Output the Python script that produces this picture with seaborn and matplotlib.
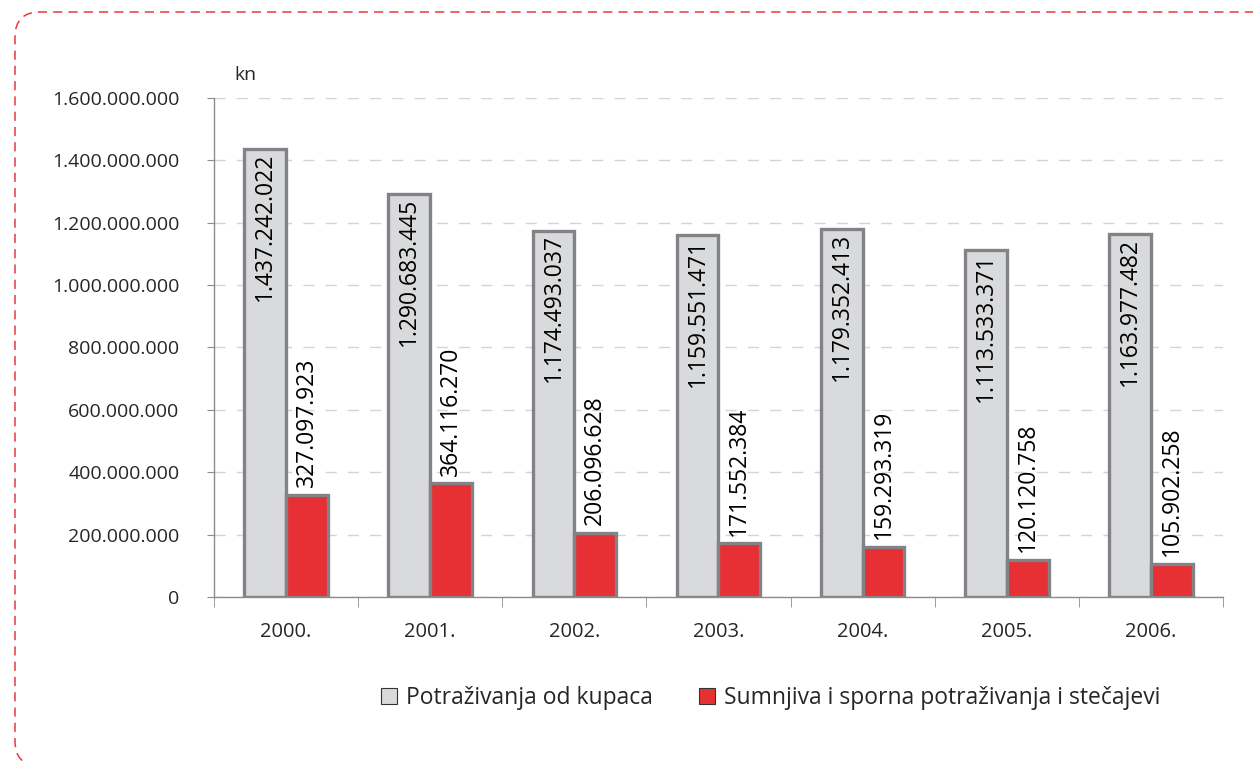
import numpy as np
import pandas as pd
import seaborn as sns
import matplotlib.pyplot as plt
from matplotlib.patches import Patch, FancyBboxPatch
from matplotlib.ticker import FuncFormatter, FixedLocator

# data
years = ['2000.', '2001.', '2002.', '2003.', '2004.', '2005.', '2006.']
potrazivanja = [1437242022, 1290683445, 1174493037, 1159551471, 1179352413, 1113533371, 1163977482]
sumnjiva = [327097923, 364116270, 206096628, 171552384, 159293319, 120120758, 105902258]
series_names = ['Potraživanja od kupaca', 'Sumnjiva i sporna potraživanja i stečajevi']
colors = ['#d9dadc', '#e63033']

df = pd.DataFrame({'godina': years * 2,
                   'serija': [series_names[0]] * 7 + [series_names[1]] * 7,
                   'iznos': potrazivanja + sumnjiva})

sns.set_style('white')
plt.rcParams['font.family'] = ['Open Sans', 'DejaVu Sans']

fig = plt.figure(figsize=(12.53, 7.63), dpi=100)
ax = fig.add_axes([0.1708, 0.2176, 0.8052, 0.654])

sns.barplot(data=df, x='godina', y='iznos', hue='serija', palette=colors,
            saturation=1, width=0.58, ax=ax, legend=False,
            edgecolor='#838387', linewidth=2.4)

def dots(v):
    return f'{int(round(v)):,}'.replace(',', '.')

ax.set_ylim(0, 1.6e9)
ax.set_xlim(-0.5, 6.5)
ax.set_yticks(np.arange(0, 1.6e9 + 1, 2e8))
ax.yaxis.set_major_formatter(FuncFormatter(lambda v, p: dots(v)))
ax.grid(axis='y', color='#d4d4d4', linestyle=(0, (8, 8)), linewidth=1)
ax.set_axisbelow(True)
ax.set_xlabel('')
ax.set_ylabel('')

for s in ['top', 'right']:
    ax.spines[s].set_visible(False)
for s in ['left', 'bottom']:
    ax.spines[s].set_color('#8c8c8c')
    ax.spines[s].set_linewidth(1)

ax.tick_params(axis='y', which='major', left=True, length=5, color='#8c8c8c',
               labelsize=14, pad=20)
ax.tick_params(axis='x', which='major', length=0, labelsize=14.5, pad=18)
ax.xaxis.set_minor_locator(FixedLocator(np.arange(-0.5, 7, 1)))
ax.tick_params(axis='x', which='minor', bottom=True, length=7, color='#8c8c8c')

# value labels, rotated
for i, cont in enumerate(ax.containers):
    for bar in cont:
        h = bar.get_height()
        xc = bar.get_x() + bar.get_width() / 2
        if i == 0:
            ax.text(xc, h - 0.012e9, dots(h), rotation=90, ha='center', va='top',
                    fontsize=16.5, color='black')
        else:
            ax.text(xc, h + 0.025e9, dots(h), rotation=90, ha='center', va='bottom',
                    fontsize=16.5, color='black')

ax.text(-0.36, 1.645e9, 'kn', fontsize=14, ha='left', va='bottom')

handles = [Patch(facecolor=c, edgecolor='#333333', linewidth=0.8) for c in colors]
fig.legend(handles, series_names, loc='center', bbox_to_anchor=(0.615, 0.085),
           ncol=2, frameon=False, fontsize=16.5, handlelength=0.7, handleheight=0.7,
           handletextpad=0.4, columnspacing=2.0)

# dashed rounded frame around the figure
frame = FancyBboxPatch((0.15, -0.03), 13.0, 7.54,
                       boxstyle='round,pad=0,rounding_size=0.25',
                       transform=fig.dpi_scale_trans, fill=False,
                       edgecolor='#e8383d', linewidth=1.1, linestyle=(0, (6, 4)),
                       clip_on=False)
fig.patches.append(frame)

fig.savefig('out.png', dpi=100)
